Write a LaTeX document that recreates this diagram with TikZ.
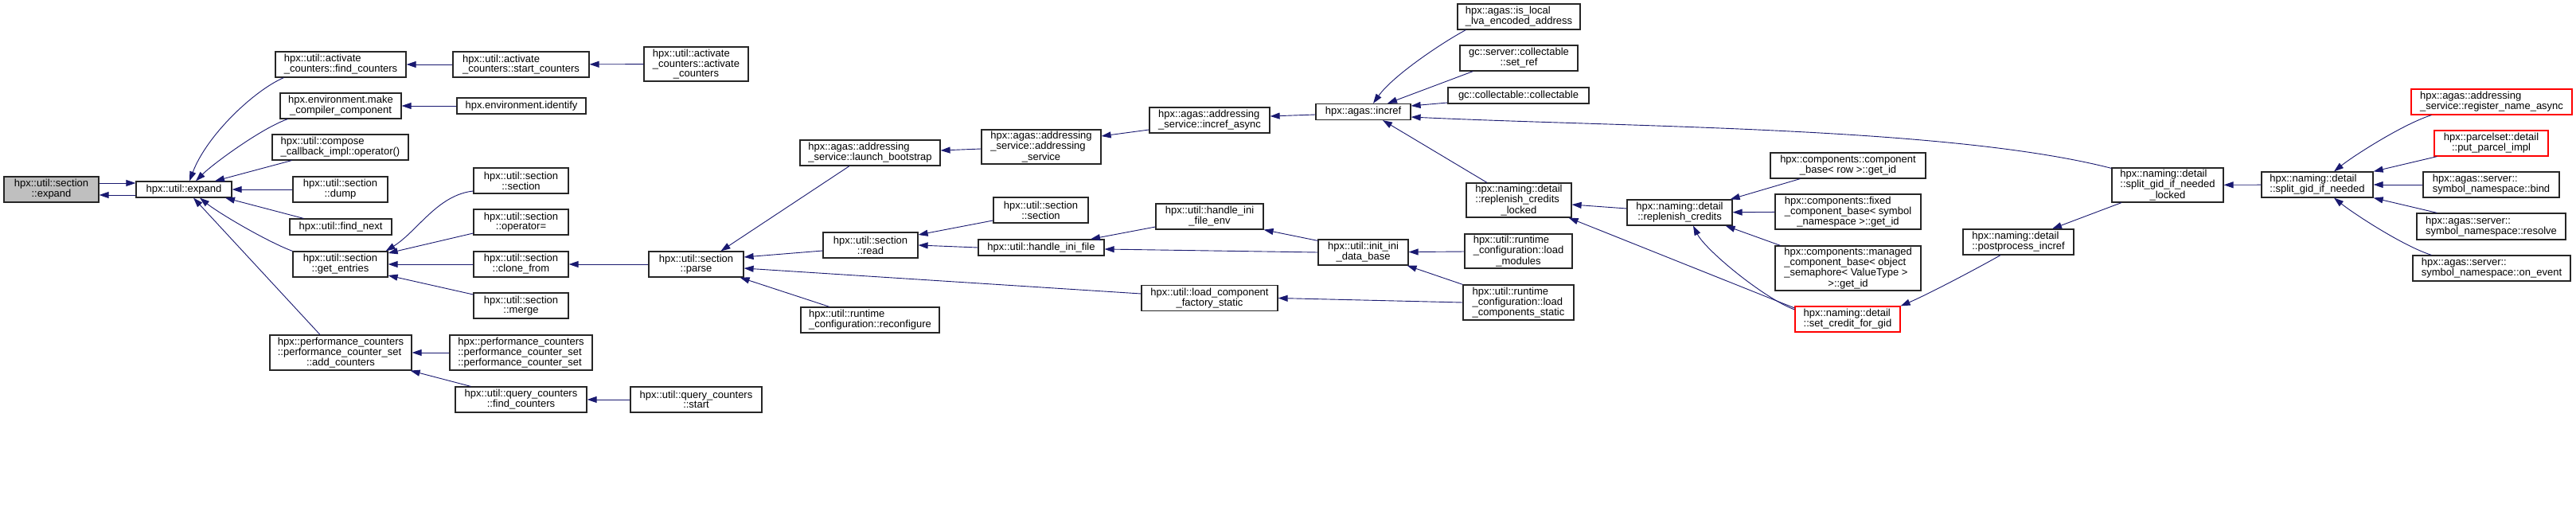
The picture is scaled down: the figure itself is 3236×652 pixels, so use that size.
\documentclass[tikz,border=0pt]{standalone}
\usepackage{fontspec}
\setmainfont{Liberation Sans}
\usetikzlibrary{arrows.meta}

\definecolor{edgeblue}{HTML}{191970}
\definecolor{nodegray}{HTML}{BFBFBF}

% left-justify a line to the width of another line
\newlength\lnwd
\newcommand\padto[2]{\settowidth\lnwd{#2}\makebox[\lnwd][l]{#1}}

\begin{document}
\begin{tikzpicture}[
  x=1pt, y=1pt,
  font=\fontsize{13}{11.7}\selectfont,
  fn/.style={draw=black!85, line width=1.2pt, fill=white,
             inner sep=0pt, align=center},
  cur/.style={fn, fill=nodegray},
  trunc/.style={fn, draw=red},
  sz/.style 2 args={minimum width=#1, minimum height=#2},
  edge/.style={-{Triangle[length=12pt, width=8pt]}, line width=0.9pt, edgeblue},
]
\fill[white] (0,0) rectangle (3236,-652);
\useasboundingbox (0,0) rectangle (3236,-652);

% ------------------- section::expand and expand -------------------
\node[cur, sz={119}{32}] (sexp) at (64.5,-238) {hpx::util::section\\::expand};
\node[fn, sz={120}{20}] (expand) at (231,-238) {hpx::util::expand};

% ------------------- first column -------------------
\node[fn, sz={164}{32}] (afind) at (428,-81)
  {\padto{hpx::util::activate}{\_counters::find\_counters}\\\_counters::find\_counters};
\node[fn, sz={152}{32}] (mkcomp) at (428,-133) {hpx.environment.make\\\_compiler\_component};
\node[fn, sz={171}{32}] (compose) at (427.5,-185)
  {\padto{hpx::util::compose}{\_callback\_impl::operator()}\\\_callback\_impl::operator()};
\node[fn, sz={119}{32}] (dump) at (427.5,-238) {hpx::util::section\\::dump};
\node[fn, sz={128}{20}] (fnext) at (428,-285) {hpx::util::find\_next};
\node[fn, sz={119}{32}] (getent) at (427.5,-332) {hpx::util::section\\::get\_entries};
\node[fn, sz={178}{44}] (addcnt) at (428,-443)
  {hpx::performance\_counters\\\padto{::performance\_counter\_set}{hpx::performance\_counters}\\::add\_counters};

% ------------------- second column -------------------
\node[fn, sz={171}{32}] (startc) at (654.5,-81)
  {\padto{hpx::util::activate}{\_counters::start\_counters}\\\_counters::start\_counters};
\node[fn, sz={162}{20}] (ident) at (655,-133) {hpx.environment.identify};
\node[fn, sz={119}{32}] (secsec) at (654.5,-227) {hpx::util::section\\::section};
\node[fn, sz={119}{32}] (secop) at (654.5,-279) {hpx::util::section\\::operator=};
\node[fn, sz={119}{32}] (clone) at (654.5,-332) {hpx::util::section\\::clone\_from};
\node[fn, sz={119}{32}] (merge) at (654.5,-384) {hpx::util::section\\::merge};
\node[fn, sz={179}{44}, align=left] (pcset) at (654.5,-443)
  {hpx::performance\_counters\\::performance\_counter\_set\\::performance\_counter\_set};
\node[fn, sz={165}{32}] (qfind) at (654.5,-502) {hpx::util::query\_counters\\::find\_counters};

% ------------------- third column -------------------
\node[fn, sz={131}{43}] (actc) at (874.5,-80.5)
  {\padto{hpx::util::activate}{\_counters::activate}\\\_counters::activate\\\_counters};
\node[fn, sz={119}{32}] (parse) at (874.5,-332) {hpx::util::section\\::parse};
\node[fn, sz={165}{32}] (qstart) at (874.5,-502) {hpx::util::query\_counters\\::start};

% ------------------- fourth column -------------------
\node[fn, sz={176}{32}] (launch) at (1093,-192)
  {\padto{hpx::agas::addressing}{\_service::launch\_bootstrap}\\\_service::launch\_bootstrap};
\node[fn, sz={119}{32}] (read) at (1093.5,-308) {hpx::util::section\\::read};
\node[fn, sz={174}{32}] (reconf) at (1093,-402)
  {\padto{hpx::util::runtime}{\_configuration::reconfigure}\\\_configuration::reconfigure};

% ------------------- fifth column -------------------
\node[fn, sz={150}{43}] (addrsvc) at (1308,-184.5)
  {hpx::agas::addressing\\\padto{\_service::addressing}{hpx::agas::addressing}\\\_service};
\node[fn, sz={119}{32}] (secsec2) at (1307.5,-264) {hpx::util::section\\::section};
\node[fn, sz={158}{20}] (hini) at (1308,-311) {hpx::util::handle\_ini\_file};

% ------------------- sixth column -------------------
\node[fn, sz={151}{32}, align=left] (incasync) at (1519.5,-151)
  {hpx::agas::addressing\\\_service::incref\_async};
\node[fn, sz={135}{32}] (hinienv) at (1519.5,-272) {hpx::util::handle\_ini\\\_file\_env};
\node[fn, sz={171}{32}] (lcfs) at (1519.5,-374.5) {hpx::util::load\_component\\\_factory\_static};

% ------------------- seventh column -------------------
\node[fn, sz={119}{20}] (incref) at (1712.5,-140.5) {hpx::agas::incref};
\node[fn, sz={113}{32}] (initdb) at (1712.5,-317) {hpx::util::init\_ini\\\_data\_base};

% ------------------- eighth column -------------------
\node[fn, sz={154}{32}] (islocal) at (1908,-21)
  {\padto{hpx::agas::is\_local}{\_lva\_encoded\_address}\\\_lva\_encoded\_address};
\node[fn, sz={148}{32}] (setref) at (1908,-73) {gc::server::collectable\\::set\_ref};
\node[fn, sz={177}{20}] (collect) at (1907.5,-120) {gc::collectable::collectable};
\node[fn, sz={132}{43}] (replk) at (1908,-251.5)
  {hpx::naming::detail\\\padto{::replenish\_credits}{hpx::naming::detail}\\\_locked};
\node[fn, sz={135}{43}] (loadmod) at (1907.5,-315.5)
  {\padto{hpx::util::runtime}{\_configuration::load}\\\_configuration::load\\\_modules};
\node[fn, sz={139}{44}, align=left] (loadcs) at (1907.5,-380)
  {hpx::util::runtime\\\_configuration::load\\\_components\_static};

% ------------------- replenish_credits and its callers -------------------
\node[fn, sz={132}{32}] (repl) at (2110,-267) {hpx::naming::detail\\::replenish\_credits};
\node[fn, sz={195}{32}] (cbrow) at (2321.5,-208) {hpx::components::component\\\_base< row >::get\_id};
\node[fn, sz={183}{44}] (fixed) at (2321.5,-266)
  {\padto{hpx::components::fixed}{\_component\_base< symbol}\\\_component\_base< symbol\\\_namespace >::get\_id};
\node[fn, sz={183}{56}] (managed) at (2321.5,-337)
  {hpx::components::managed\\\padto{\_component\_base< object}{hpx::components::managed}\\%
   \padto{\_semaphore< ValueType >}{hpx::components::managed}\\>::get\_id};
\node[trunc, sz={132}{32}, align=left] (setcred) at (2321,-401)
  {hpx::naming::detail\\::set\_credit\_for\_gid};
\node[fn, sz={139}{32}, align=left] (postinc) at (2535.5,-304)
  {hpx::naming::detail\\::postprocess\_incref};

% ------------------- split_gid_if_needed -------------------
\node[fn, sz={140}{43}] (splitlk) at (2723,-232.5)
  {\padto{hpx::naming::detail}{::split\_gid\_if\_needed}\\::split\_gid\_if\_needed\\\_locked};
\node[fn, sz={140}{32}, align=left] (split) at (2911,-232)
  {hpx::naming::detail\\::split\_gid\_if\_needed};
\node[trunc, sz={202}{32}, align=left] (regname) at (3130,-128)
  {hpx::agas::addressing\\\_service::register\_name\_async};
\node[trunc, sz={143}{32}] (putparcel) at (3129.5,-180) {hpx::parcelset::detail\\::put\_parcel\_impl};
\node[fn, sz={171}{32}, align=left] (bind) at (3129.5,-232)
  {hpx::agas::server::\\symbol\_namespace::bind};
\node[fn, sz={187}{33}, align=left] (resolve) at (3129.5,-284.5)
  {hpx::agas::server::\\symbol\_namespace::resolve};
\node[fn, sz={198}{32}, align=left] (onevent) at (3130,-337)
  {hpx::agas::server::\\symbol\_namespace::on\_event};

% ------------------- edges -------------------
\draw[edge] ([yshift=8]sexp.east) -- ([yshift=8]expand.west);
\draw[edge] ([yshift=-7]expand.west) -- ([yshift=-7]sexp.east);

\draw[edge] ([xshift=11]afind.south west) .. controls +(-37,-16) and +(22,58) .. ([xshift=7]expand.north);
\draw[edge] ([xshift=10]mkcomp.south west) .. controls +(-32,-11) and +(22,22) .. ([xshift=15]expand.north);
\draw[edge] ([xshift=25]compose.south west) -- ([xshift=39]expand.north);
\draw[edge] (dump) -- (expand);
\draw[edge] ([xshift=18]fnext.north west) -- ([xshift=52]expand.south);
\draw[edge] (getent.north west) .. controls +(-30,11) and +(25,-20) .. ([xshift=20]expand.south);
\draw[edge] ([xshift=-26]addcnt.north) -- ([xshift=12]expand.south);

\draw[edge] (startc) -- (afind);
\draw[edge] (actc) -- (startc);
\draw[edge] (ident) -- (mkcomp);
\draw[edge] ([yshift=-13]secsec.west) .. controls +(-45,-5) and +(40,25) .. ([xshift=-3]getent.north east);
\draw[edge] ([yshift=-14]secop.west) -- ([yshift=14]getent.east);
\draw[edge] (clone) -- (getent);
\draw[edge] ([yshift=14]merge.west) -- ([yshift=-14]getent.east);
\draw[edge] (pcset) -- (addcnt);
\draw[edge] ([xshift=20]qfind.north west) -- ([xshift=-2]addcnt.south east);
\draw[edge] (qstart) -- (qfind);

% parse and its callers
\draw[edge] (parse) -- (clone);
\draw[edge] ([xshift=-26]launch.south) -- ([xshift=31]parse.north);
\draw[edge] ([yshift=-7]read.west) -- ([yshift=9]parse.east);
\draw[edge] ([yshift=5.5]lcfs.west) -- ([yshift=-5]parse.east);
\draw[edge] ([xshift=-51]reconf.north) -- ([xshift=-5]parse.south east);

% agas chain
\draw[edge] ([yshift=-2.5]addrsvc.west) -- ([yshift=3]launch.east);
\draw[edge] ([yshift=-12]incasync.west) -- ([yshift=13.5]addrsvc.east);
\draw[edge] ([yshift=-3.5]incref.west) -- ([yshift=5]incasync.east);

% ini files
\draw[edge] ([yshift=-13]secsec2.west) -- ([yshift=13]read.east);
\draw[edge] (hini.west) -- (read.east);
\draw[edge] ([yshift=-13]hinienv.west) -- ([xshift=62]hini.north);
\draw[edge] ([yshift=-2]initdb.north west) -- (hinienv.south east);
\draw[edge] (initdb.west) -- ([yshift=-2]hini.east);
\draw[edge] (loadmod) -- (initdb);
\draw[edge] (loadcs.north west) -- ([xshift=-2]initdb.south east);
\draw[edge] (loadcs.west) -- (lcfs.east);

% callers of incref
\draw[edge] ([xshift=11]islocal.south west) .. controls +(-30,-16) and +(25,35) .. ([xshift=12.5]incref.north);
\draw[edge] ([xshift=17]setref.south west) -- ([xshift=30.5]incref.north);
\draw[edge] ([yshift=-9]collect.west) -- ([yshift=7.5]incref.east);
\draw[edge] ([yshift=-1]splitlk.north west) .. controls +(-203,52) and +(278,-13) .. ([yshift=-6.5]incref.east);
\draw[edge] ([xshift=-40]replk.north) -- ([xshift=24.5]incref.south);

% replenish credits
\draw[edge] ([yshift=5]repl.west) -- ([yshift=-5.5]replk.east);
\draw[edge] ([yshift=14]setcred.west) -- ([xshift=-4]replk.south east);
\draw[edge] ([yshift=12]setcred.west) .. controls +(-40,15) and +(15,-30) .. ([xshift=17]repl.south);
\draw[edge] ([xshift=38]cbrow.south west) -- ([xshift=-3]repl.north east);
\draw[edge] (fixed) -- (repl);
\draw[edge] ([xshift=7]managed.north west) -- ([xshift=-9]repl.south east);

% split_gid_if_needed
\draw[edge] ([xshift=-22.5]postinc.south) .. controls +(-30,-17) and +(35,15) .. (setcred.north east);
\draw[edge] ([xshift=-58]splitlk.south) -- ([xshift=42.5]postinc.north);
\draw[edge] (split) -- (splitlk);
\draw[edge] ([xshift=26]regname.south west) .. controls +(-35,-11) and +(25,20) .. ([xshift=21]split.north);
\draw[edge] ([xshift=4]putparcel.south west) -- (split.north east);
\draw[edge] (bind) -- (split);
\draw[edge] ([xshift=26]resolve.north west) -- (split.south east);
\draw[edge] ([xshift=24]onevent.north west) .. controls +(-35,11) and +(25,-20) .. ([xshift=21]split.south);

\end{tikzpicture}
\end{document}
